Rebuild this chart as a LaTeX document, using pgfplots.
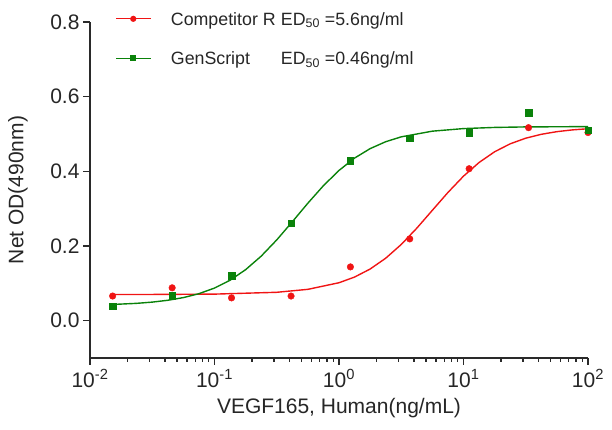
\documentclass[border=0pt]{standalone}
\usepackage{fontspec}
\setmainfont{Liberation Sans}
\usepackage{pgfplots}
\pgfplotsset{compat=1.18}
\definecolor{cred}{HTML}{F01414}
\definecolor{cgreen}{HTML}{0A820A}
\definecolor{axgray}{HTML}{2A2A2A}

\begin{document}
\begin{tikzpicture}
\useasboundingbox (-90pt,-72pt) rectangle (522pt,358pt);
\begin{axis}[
  at={(0pt,0pt)}, anchor=south west,
  width=498pt, height=336pt, scale only axis,
  xmode=log, xmin=0.01, xmax=100,
  ymin=-0.1, ymax=0.8,
  axis lines=left,
  axis line style={-, line width=1.3pt, axgray},
  xtick={0.01,0.1,1,10,100},
  xticklabels={10\textsuperscript{-2},10\textsuperscript{-1},10\textsuperscript{0},10\textsuperscript{1},10\textsuperscript{2}},
  minor xtick={0.02,0.03,0.04,0.05,0.06,0.07,0.08,0.09,
               0.2,0.3,0.4,0.5,0.6,0.7,0.8,0.9,
               2,3,4,5,6,7,8,9,20,30,40,50,60,70,80,90},
  ytick={0,0.2,0.4,0.6,0.8},
  yticklabels={0.0,0.2,0.4,0.6,0.8},
  tick align=outside,
  major tick length=7pt, minor tick length=4pt,
  tick style={line width=1.3pt, axgray},
  tick label style={font=\fontsize{21}{24}\selectfont, text=black!85},
  xticklabel style={yshift=-1pt},
  label style={font=\fontsize{21}{24}\selectfont, text=black!85},
  xlabel={VEGF165, Human(ng/mL)},
  ylabel={Net OD(490nm)},
  xlabel style={at={(axis description cs:0.5,-0.149)}, anchor=center},
  ylabel style={at={(axis description cs:-0.1446,0.5)}, anchor=center},
  clip=false,
  legend style={draw=none, fill=none, at={(axis description cs:0.045,1.045)},
    anchor=north west, row sep=20pt,
    font=\fontsize{17.8}{20}\selectfont, text=black!85,
    /tikz/every odd column/.append style={column sep=17pt}},
  legend cell align=left,
  legend image code/.code={\draw[mark repeat=2,mark phase=2]
    plot coordinates {(0pt,0pt)(17pt,0pt)(35pt,0pt)};},
]
\addlegendimage{cred, line width=1.3pt, mark=*, mark size=2.4pt}
\addlegendentry{\makebox[110pt][l]{Competitor R\strut}ED\textsubscript{50} =5.6ng/ml}
\addlegendimage{cgreen, line width=1.3pt, mark=square*, mark size=2.2pt}
\addlegendentry{\makebox[110pt][l]{GenScript\strut}ED\textsubscript{50} =0.46ng/ml}

% fitted curves (4PL, sampled)
\addplot[cred, line width=1.4pt, forget plot] coordinates {
  (0.0152,0.0701) (0.03162,0.0702) (0.1,0.0711) (0.3162,0.0760) (0.5623,0.0839)
  (1,0.1016) (1.334,0.1168) (1.778,0.1383) (2.371,0.1672) (3.162,0.2041)
  (4.217,0.2478) (5.623,0.2957) (7.499,0.3434) (10,0.3871) (13.34,0.4237)
  (17.78,0.4524) (23.71,0.4737) (31.62,0.4888) (42.17,0.4992) (56.23,0.5063)
  (74.99,0.5110) (100,0.5141)
};
\addplot[cgreen, line width=1.4pt, forget plot] coordinates {
  (0.0152,0.0434) (0.02371,0.0464) (0.03162,0.0497) (0.04217,0.0546) (0.05623,0.0618)
  (0.07499,0.0723) (0.1,0.0873) (0.1334,0.1083) (0.1778,0.1366) (0.2371,0.1728)
  (0.3162,0.2163) (0.4217,0.2649) (0.5623,0.3147) (0.7499,0.3616) (1,0.4024)
  (1.334,0.4355) (1.778,0.4608) (2.371,0.4793) (3.162,0.4924) (5.623,0.5076)
  (10,0.5145) (17.78,0.5176) (31.62,0.5190) (100,0.5198)
};

% measured points
\addplot[cred, only marks, mark=*, mark size=3.3pt, forget plot] coordinates {
  (0.0152,0.066) (0.0457,0.088) (0.137,0.061) (0.412,0.066) (1.235,0.144)
  (3.70,0.219) (11.1,0.407) (33.3,0.517) (100,0.504)
};
\addplot[cgreen, only marks, mark=square*, mark size=3.2pt, forget plot] coordinates {
  (0.0152,0.038) (0.0457,0.067) (0.137,0.120) (0.412,0.261) (1.235,0.429)
  (3.70,0.488) (11.1,0.504) (33.3,0.557) (100,0.510)
};
\end{axis}
% tick marks drawn outside the axis environment (axis box: 498pt x 336pt at origin)
\foreach \d in {0,1,2,3,4}
  \draw[axgray, line width=1.3pt] ({124.5pt*\d},0pt) -- ++(0pt,-7pt);
\foreach \d in {0,1,2,3}
  \foreach \k in {2,...,9}
    \draw[axgray, line width=1.1pt] ({124.5pt*(\d+log10(\k))},0pt) -- ++(0pt,-4pt);
\foreach \v in {0,0.2,0.4,0.6,0.8}
  \draw[axgray, line width=1.3pt] (0pt,{336pt*(\v+0.1)/0.9}) -- ++(-7pt,0pt);
\end{tikzpicture}
\end{document}
